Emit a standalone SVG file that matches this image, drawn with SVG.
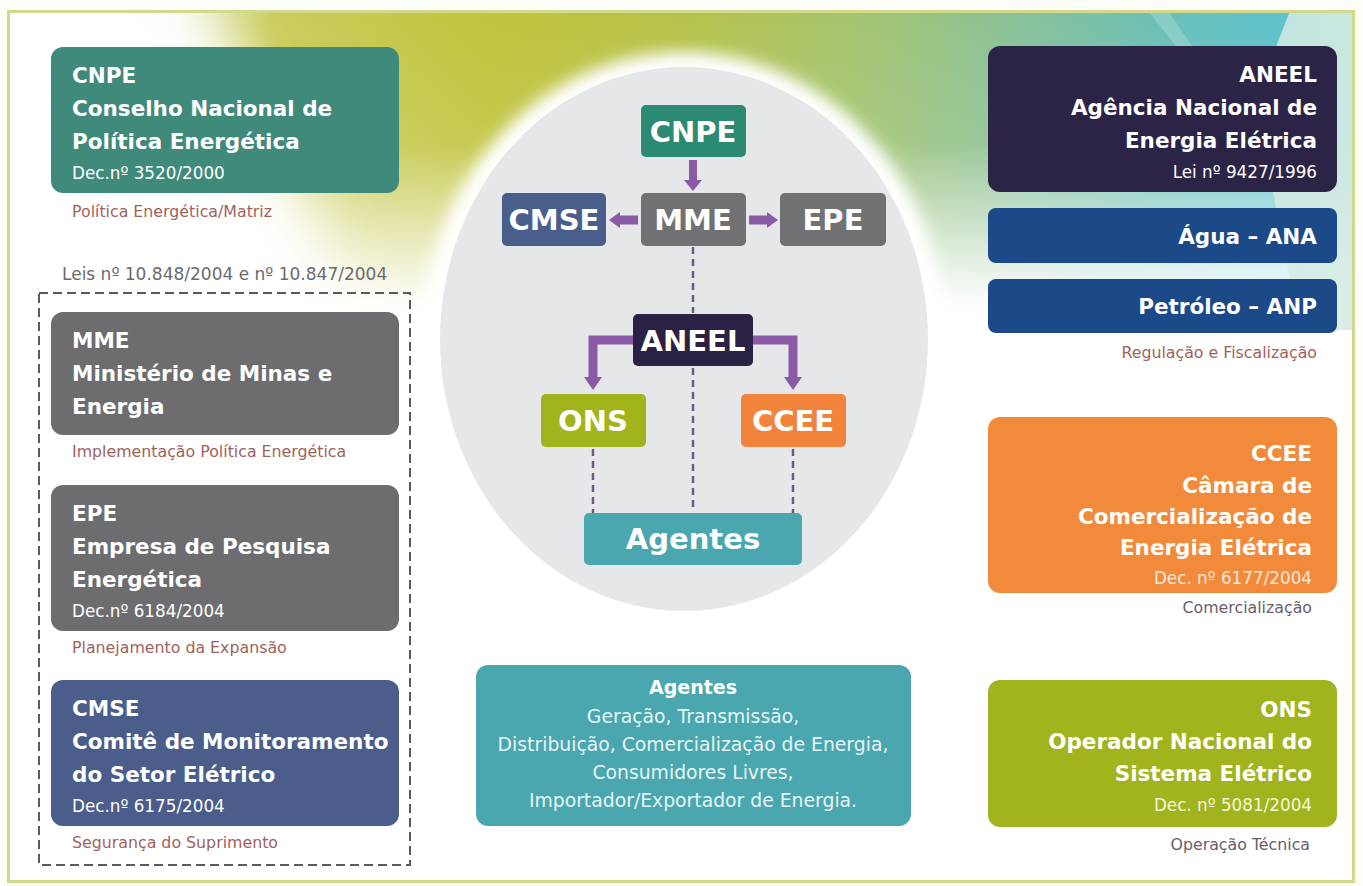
<svg xmlns="http://www.w3.org/2000/svg" width="1363" height="886" viewBox="0 0 1363 886">
  <defs>
    <linearGradient id="bandGrad" x1="0" y1="0" x2="1363" y2="0" gradientUnits="userSpaceOnUse">
      <stop offset="0" stop-color="#f3f7ec"/>
      <stop offset="0.13" stop-color="#e9efd2"/>
      <stop offset="0.2" stop-color="#cacc5c"/>
      <stop offset="0.36" stop-color="#bfc43c"/>
      <stop offset="0.5" stop-color="#b7c24a"/>
      <stop offset="0.62" stop-color="#a5c46c"/>
      <stop offset="0.75" stop-color="#88c19a"/>
      <stop offset="0.85" stop-color="#6cc0b6"/>
      <stop offset="0.94" stop-color="#5ec2cc"/>
      <stop offset="1" stop-color="#8fd0d2"/>
    </linearGradient>
    <linearGradient id="fadeDown" x1="0" y1="11" x2="0" y2="340" gradientUnits="userSpaceOnUse">
      <stop offset="0" stop-color="#fff" stop-opacity="0"/>
      <stop offset="0.4" stop-color="#fff" stop-opacity="0.1"/>
      <stop offset="0.9" stop-color="#fff" stop-opacity="1"/>
      <stop offset="1" stop-color="#fff" stop-opacity="1"/>
    </linearGradient>
    <filter id="soft" x="-30%" y="-30%" width="160%" height="160%">
      <feGaussianBlur stdDeviation="30"/>
    </filter>
    <filter id="halo" x="-20%" y="-20%" width="140%" height="140%">
      <feGaussianBlur stdDeviation="8"/>
    </filter>
    <clipPath id="frameClip">
      <rect x="8" y="11" width="1346" height="871"/>
    </clipPath>
  </defs>
  <style>
    .box-txt { font-family: "DejaVu Sans", "Open Sans", sans-serif; fill: #ffffff; }
    .b { font-weight: 700; font-size: 21.5px; }
    .r { font-weight: 400; font-size: 16.8px; }
    .cap { font-family: "DejaVu Sans", "Open Sans", sans-serif; font-size: 15.8px; fill: #a0625c; }
    .cap2 { fill: #6b5c6c; }
    .hub { font-family: "DejaVu Sans", "Open Sans", sans-serif; font-weight: 700; font-size: 29px; fill: #ffffff; text-anchor: middle; }
    .end { text-anchor: end; }
    .mid { text-anchor: middle; }
    .list { font-size: 18.8px; fill: #e6f5f5; }
    .arrow { fill: none; stroke: #8a5aa6; stroke-width: 9; }
    .head { fill: #8a5aa6; }
    .dash { fill: none; stroke: #6c5a82; stroke-width: 2.5; stroke-dasharray: 7 5; }
  </style>

  <!-- page background -->
  <rect x="0" y="0" width="1363" height="886" fill="#fefef8"/>

  <!-- coloured top band fading into white -->
  <g clip-path="url(#frameClip)">
    <rect x="8" y="11" width="1346" height="871" fill="#ffffff"/>
    <rect x="8" y="11" width="1346" height="340" fill="url(#bandGrad)"/>
    <rect x="8" y="11" width="1346" height="340" fill="url(#fadeDown)"/>
    <path d="M-60,-40 L170,-40 L300,180 L360,340 L-60,350 Z" fill="#ffffff" filter="url(#soft)"/>
    <path d="M1290,11 L1354,11 L1354,330 L1300,330 L1255,100 Z" fill="#d3ebe2" opacity="0.85"/>
    <path d="M1148,11 L1168,11 L1192,46 L1176,46 Z" fill="#ffffff" opacity="0.2"/>
    <!-- central disc with its white glow -->
    <ellipse cx="684" cy="340" rx="262" ry="288" fill="#ffffff" filter="url(#halo)"/>
    <ellipse cx="684" cy="339" rx="244" ry="272" fill="#e6e7e8"/>
  </g>
  <rect x="8.5" y="11.5" width="1345" height="870" fill="none" stroke="#d2d98b" stroke-width="3"/>

  <!-- left column -->
  <text class="cap" x="62" y="280" style="font-size:17px;fill:#6b6b6b">Leis nº 10.848/2004 e nº 10.847/2004</text>
  <rect x="39" y="293" width="371" height="572" fill="none" stroke="#5a5a5a" stroke-width="2" stroke-dasharray="9 5"/>

  <g id="node-cnpe-info">
    <rect x="51" y="47" width="348" height="146" rx="12" fill="#3f8a7a"/>
    <text class="box-txt b" x="72" y="83">CNPE</text>
    <text class="box-txt b" x="72" y="116">Conselho Nacional de</text>
    <text class="box-txt b" x="72" y="149">Política Energética</text>
    <text class="box-txt r" x="72" y="179">Dec.nº 3520/2000</text>
    <text class="cap" x="72" y="217">Política Energética/Matriz</text>
  </g>

  <g id="node-mme-info">
    <rect x="51" y="312" width="348" height="123" rx="12" fill="#6d6d70"/>
    <text class="box-txt b" x="72" y="348">MME</text>
    <text class="box-txt b" x="72" y="381">Ministério de Minas e</text>
    <text class="box-txt b" x="72" y="414">Energia</text>
    <text class="cap" x="72" y="457">Implementação Política Energética</text>
  </g>

  <g id="node-epe-info">
    <rect x="51" y="485" width="348" height="146" rx="12" fill="#6d6d70"/>
    <text class="box-txt b" x="72" y="521">EPE</text>
    <text class="box-txt b" x="72" y="554">Empresa de Pesquisa</text>
    <text class="box-txt b" x="72" y="587">Energética</text>
    <text class="box-txt r" x="72" y="617">Dec.nº 6184/2004</text>
    <text class="cap" x="72" y="653">Planejamento da Expansão</text>
  </g>

  <g id="node-cmse-info">
    <rect x="51" y="680" width="348" height="146" rx="12" fill="#4a5d8b"/>
    <text class="box-txt b" x="72" y="716">CMSE</text>
    <text class="box-txt b" x="72" y="749">Comitê de Monitoramento</text>
    <text class="box-txt b" x="72" y="782">do Setor Elétrico</text>
    <text class="box-txt r" x="72" y="812">Dec.nº 6175/2004</text>
    <text class="cap" x="72" y="848">Segurança do Suprimento</text>
  </g>

  <!-- right column -->
  <g id="node-aneel-info">
    <rect x="988" y="46" width="349" height="146" rx="12" fill="#2c2446"/>
    <text class="box-txt b end" x="1317" y="82">ANEEL</text>
    <text class="box-txt b end" x="1317" y="115">Agência Nacional de</text>
    <text class="box-txt b end" x="1317" y="148">Energia Elétrica</text>
    <text class="box-txt r end" x="1317" y="178">Lei nº 9427/1996</text>
  </g>

  <g id="node-ana">
    <rect x="988" y="208" width="349" height="55" rx="8" fill="#1c4987"/>
    <text class="box-txt b end" x="1317" y="244">Água – ANA</text>
  </g>

  <g id="node-anp">
    <rect x="988" y="279" width="349" height="54" rx="8" fill="#1c4987"/>
    <text class="box-txt b end" x="1317" y="314">Petróleo – ANP</text>
    <text class="cap end" x="1317" y="358">Regulação e Fiscalização</text>
  </g>

  <g id="node-ccee-info">
    <rect x="988" y="417" width="349" height="176" rx="12" fill="#f28a3c"/>
    <text class="box-txt b end" x="1312" y="461">CCEE</text>
    <text class="box-txt b end" x="1312" y="493">Câmara de</text>
    <text class="box-txt b end" x="1312" y="524">Comercialização de</text>
    <text class="box-txt b end" x="1312" y="555">Energia Elétrica</text>
    <text class="box-txt r end" x="1312" y="584" style="fill:#fde8d8">Dec. nº 6177/2004</text>
    <text class="cap cap2 end" x="1312" y="613">Comercialização</text>
  </g>

  <g id="node-ons-info">
    <rect x="988" y="680" width="349" height="147" rx="12" fill="#a2b41d"/>
    <text class="box-txt b end" x="1312" y="717">ONS</text>
    <text class="box-txt b end" x="1312" y="749">Operador Nacional do</text>
    <text class="box-txt b end" x="1312" y="781">Sistema Elétrico</text>
    <text class="box-txt r end" x="1312" y="811" style="fill:#f3f6dc">Dec. nº 5081/2004</text>
    <text class="cap cap2 end" x="1310" y="850">Operação Técnica</text>
  </g>

  <!-- bottom centre -->
  <g id="node-agentes-info">
    <rect x="476" y="665" width="435" height="161" rx="12" fill="#4aa7b0"/>
    <text class="box-txt mid" x="693" y="694" style="font-weight:700;font-size:19px">Agentes</text>
    <text class="box-txt mid list" x="693" y="723">Geração, Transmissão,</text>
    <text class="box-txt mid list" x="693" y="751">Distribuição, Comercialização de Energia,</text>
    <text class="box-txt mid list" x="693" y="779">Consumidores Livres,</text>
    <text class="box-txt mid list" x="693" y="807">Importador/Exportador de Energia.</text>
  </g>

  <!-- connectors of the central chart -->
  <g id="connectors">
    <line class="dash" x1="693" y1="247" x2="693" y2="313"/>
    <line class="dash" x1="693" y1="368" x2="693" y2="512"/>
    <line class="dash" x1="593" y1="449" x2="593" y2="513"/>
    <line class="dash" x1="793" y1="449" x2="793" y2="513"/>
    <!-- CNPE to MME -->
    <line x1="693" y1="160" x2="693" y2="181" stroke="#8a5aa6" stroke-width="8"/>
    <path class="head" d="M684,180 L702,180 L693,191 Z"/>
    <!-- MME to CMSE -->
    <line x1="638" y1="220" x2="618" y2="220" stroke="#8a5aa6" stroke-width="9"/>
    <path class="head" d="M620,212 L620,228 L609,220 Z"/>
    <!-- MME to EPE -->
    <line x1="749" y1="220" x2="769" y2="220" stroke="#8a5aa6" stroke-width="9"/>
    <path class="head" d="M767,212 L767,228 L778,220 Z"/>
    <!-- ANEEL to ONS / CCEE -->
    <path class="arrow" d="M634,340 H593 V378"/>
    <path class="head" d="M584,377 L602,377 L593,390 Z"/>
    <path class="arrow" d="M752,340 H793 V378"/>
    <path class="head" d="M784,377 L802,377 L793,390 Z"/>
  </g>

  <!-- central chart nodes -->
  <g id="hub-cnpe">
    <rect x="641" y="105" width="105" height="52" rx="5" fill="#2d8a72"/>
    <text class="hub" x="693" y="142">CNPE</text>
  </g>
  <g id="hub-mme">
    <rect x="641" y="193" width="105" height="53" rx="5" fill="#717174"/>
    <text class="hub" x="693" y="230">MME</text>
  </g>
  <g id="hub-cmse">
    <rect x="502" y="193" width="104" height="53" rx="5" fill="#4a5e8c"/>
    <text class="hub" x="554" y="230">CMSE</text>
  </g>
  <g id="hub-epe">
    <rect x="780" y="193" width="106" height="53" rx="5" fill="#717174"/>
    <text class="hub" x="833" y="230">EPE</text>
  </g>
  <g id="hub-aneel">
    <rect x="633" y="314" width="120" height="52" rx="5" fill="#2a2145"/>
    <text class="hub" x="693" y="351">ANEEL</text>
  </g>
  <g id="hub-ons">
    <rect x="541" y="394" width="105" height="53" rx="5" fill="#a2b41c"/>
    <text class="hub" x="593" y="431">ONS</text>
  </g>
  <g id="hub-ccee">
    <rect x="741" y="394" width="105" height="53" rx="5" fill="#f1833a"/>
    <text class="hub" x="793" y="431">CCEE</text>
  </g>
  <g id="hub-agentes">
    <rect x="584" y="513" width="218" height="52" rx="5" fill="#4aa7b0"/>
    <text class="hub" x="693" y="549">Agentes</text>
  </g>
</svg>
